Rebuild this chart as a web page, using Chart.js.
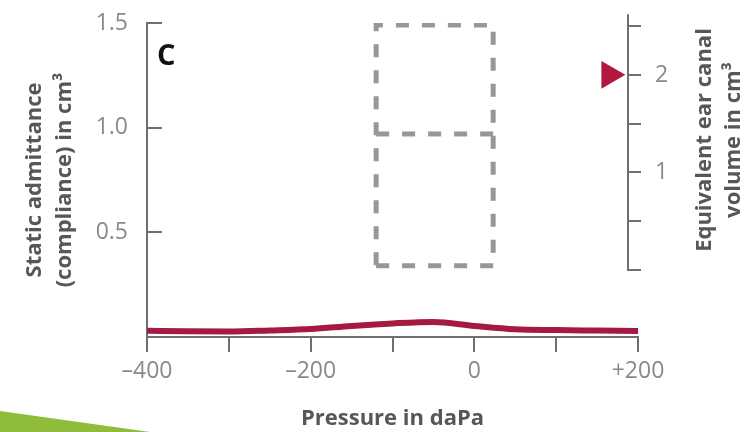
<!DOCTYPE html>
<html>
<head>
<meta charset="utf-8">
<script src="https://cdn.jsdelivr.net/npm/chart.js@4/dist/chart.umd.min.js"></script>
<style>
  body { margin: 0; background: #fff; }
  #wrap { position: relative; width: 749px; height: 432px; }
  #deco { position: absolute; left: 0; top: 0; width: 749px; height: 432px; background: #8fbc3a;
          clip-path: polygon(0 411px, 150px 432px, 0 432px); pointer-events: none; }
</style>
</head>
<body>
<div id="wrap">
  <canvas id="tymp"></canvas>
  <div id="deco"></div>
</div>
<script>
// --- data ---
const pressure   = [-400, -350, -300, -250, -200, -150, -100, -50, 0, 50, 100, 150, 200];
const admittance = [0.030, 0.027, 0.026, 0.031, 0.038, 0.053, 0.065, 0.072, 0.053, 0.037, 0.033, 0.031, 0.029];

const xTickValues = [-400, -300, -200, -100, 0, 100, 200];
const xTickLabels = ['–400', '', '–200', '', '0', '', '+200'];
const yTickValues = [0, 0.5, 1.0, 1.5];
const yTickLabels = ['', '0.5', '1.0', '1.5'];
const y2TickValues = [0, 0.5, 1, 1.5, 2, 2.5];
const y2TickLabels = ['', '', '1', '', '2', ''];

// ear canal volume marker (right axis)
const markerPressure = [165];
const markerVolume   = [2];

// dashed box (normal region), pressure and admittance
const boxPressure = [-120, 23];
const boxAdmit    = [0.34, 0.97, 1.49];

const AXIS = '#6f6f6f';
const TICK_TXT = '#8a8a8a';
const TITLE_TXT = '#575757';
const RED = '#a51a42';
const FONT = "'Open Sans', sans-serif";
const rightAxisAt = 188; // daPa where the volume axis is drawn

const curve = pressure.map((p, i) => ({ x: p, y: admittance[i] }));
const [bx0, bx1] = boxPressure;
const [by0, by1, by2] = boxAdmit;
const boxOutline = [
  { x: bx0, y: by0 }, { x: bx1, y: by0 }, { x: bx1, y: by2 }, { x: bx0, y: by2 }, { x: bx0, y: by0 },
];
const boxMiddle = [{ x: bx0, y: by1 }, { x: bx1, y: by1 }];
const marker = markerPressure.map((p, i) => ({ x: p, y: markerVolume[i] }));

const dashed = {
  type: 'scatter', showLine: true, borderColor: '#979797', borderWidth: 5,
  borderDash: [13, 13], pointRadius: 0, fill: false,
};

// right-hand volume axis, panel letter
const extras = {
  id: 'extras',
  afterDraw(chart) {
    const { ctx, scales: { x, y2 } } = chart;
    const ax = Math.round(x.getPixelForValue(rightAxisAt));
    ctx.save();
    ctx.strokeStyle = AXIS;
    ctx.lineWidth = 2;
    ctx.beginPath();
    ctx.moveTo(ax, y2.getPixelForValue(0) + 1);
    ctx.lineTo(ax, y2.getPixelForValue(2.62));
    ctx.stroke();
    ctx.font = `23px ${FONT}`;
    ctx.fillStyle = TICK_TXT;
    ctx.textAlign = 'left';
    ctx.textBaseline = 'middle';
    y2.ticks.forEach((t, i) => {
      const py = Math.round(y2.getPixelForValue(t.value));
      ctx.beginPath();
      ctx.moveTo(ax, py);
      ctx.lineTo(ax + 13, py);
      ctx.stroke();
      if (y2TickLabels[i]) ctx.fillText(y2TickLabels[i], ax + 27, py);
    });

    // right title
    ctx.save();
    ctx.translate(705, 140);
    ctx.rotate(-Math.PI / 2);
    ctx.font = `bold 22px ${FONT}`;
    ctx.fillStyle = TITLE_TXT;
    ctx.textAlign = 'center';
    ctx.textBaseline = 'middle';
    ctx.fillText('Equivalent ear canal', 0, 0);
    ctx.fillText('volume in cm³', 0, 29);
    ctx.restore();

    ctx.font = `bold 29px ${FONT}`;
    ctx.fillStyle = '#111';
    ctx.textAlign = 'left';
    ctx.textBaseline = 'alphabetic';
    ctx.fillText('C', 157, 65);
    ctx.restore();
  },
};

new Chart(document.getElementById('tymp'), {
  data: {
    datasets: [
      { ...dashed, data: boxOutline, yAxisID: 'y' },
      { ...dashed, data: boxMiddle, yAxisID: 'y' },
      {
        type: 'line', data: curve, yAxisID: 'y', borderColor: RED, borderWidth: 6,
        cubicInterpolationMode: 'monotone', pointRadius: 0, fill: false,
      },
      {
        type: 'scatter', data: marker, yAxisID: 'y2', pointStyle: 'triangle', rotation: 90,
        pointRadius: 16, backgroundColor: '#b0183f', borderColor: '#b0183f', borderWidth: 0,
      },
    ],
  },
  options: {
    responsive: true,
    maintainAspectRatio: false,
    animation: false,
    layout: { padding: { left: 0, right: 111, top: 23, bottom: 0 } },
    plugins: { legend: { display: false }, tooltip: { enabled: false } },
    scales: {
      x: {
        type: 'linear', min: -400, max: 200,
        afterBuildTicks: s => { s.ticks = xTickValues.map(v => ({ value: v })); },
        afterFit: s => { s.height = 95; s.paddingLeft = 0; s.paddingRight = 0; },
        grid: { drawOnChartArea: false, tickLength: 15, color: AXIS, lineWidth: 2 },
        border: { color: AXIS, width: 2 },
        ticks: {
          padding: 6, color: TICK_TXT, font: { family: FONT, size: 23 }, maxRotation: 0,
          autoSkip: false, callback: (v, i) => xTickLabels[i],
        },
        title: {
          display: true, text: 'Pressure in daPa', color: TITLE_TXT,
          font: { family: FONT, size: 22, weight: 'bold' }, padding: { top: 0, bottom: 0 },
        },
      },
      y: {
        type: 'linear', position: 'left', min: 0, max: 1.5,
        afterBuildTicks: s => { s.ticks = yTickValues.map(v => ({ value: v })); },
        afterFit: s => { s.width = 147; s.paddingTop = 0; s.paddingBottom = 0; },
        grid: { drawOnChartArea: false, tickLength: -15, color: AXIS, lineWidth: 2 },
        border: { color: AXIS, width: 2 },
        ticks: {
          padding: 34, color: TICK_TXT, font: { family: FONT, size: 23 },
          callback: (v, i) => yTickLabels[i],
        },
        title: {
          display: true, text: ['Static admittance', '(compliance) in cm³'], color: TITLE_TXT,
          font: { family: FONT, size: 22, weight: 'bold', lineHeight: 1.364 }, padding: { top: 20, bottom: 0 },
        },
      },
      y2: {
        type: 'linear', position: 'right', display: false, min: -0.686, max: 2.531,
        afterBuildTicks: s => { s.ticks = y2TickValues.map(v => ({ value: v })); },
      },
    },
  },
  plugins: [extras],
});
</script>
</body>
</html>
